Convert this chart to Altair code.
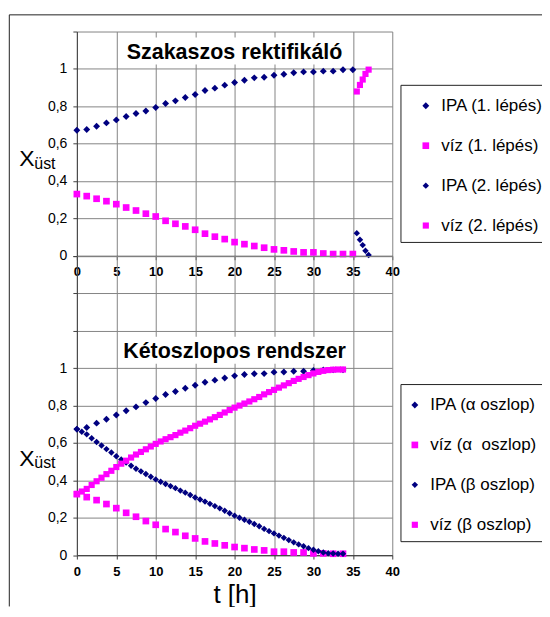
import altair as alt
import pandas as pd

# ---------------- data ----------------
# Panel 1: Szakaszos rektifikáló
t_step1 = [0, 1.25, 2.5, 3.75, 5, 6.25, 7.5, 8.75, 10, 11.25, 12.5, 13.75, 15, 16.25,
           17.5, 18.75, 20, 21.25, 22.5, 23.75, 25, 26.25, 27.5, 28.75, 30, 31.25,
           32.5, 33.75, 35]
ipa_step1 = [0.672, 0.676, 0.693, 0.711, 0.727, 0.745, 0.761, 0.775, 0.793, 0.815,
             0.829, 0.847, 0.863, 0.884, 0.897, 0.913, 0.927, 0.939, 0.952, 0.955,
             0.966, 0.971, 0.979, 0.984, 0.984, 0.988, 0.988, 0.995, 0.995]
viz_step1 = [0.330, 0.319, 0.305, 0.292, 0.276, 0.258, 0.242, 0.225, 0.210, 0.187,
             0.171, 0.157, 0.139, 0.118, 0.102, 0.089, 0.073, 0.062, 0.052, 0.043,
             0.034, 0.029, 0.023, 0.018, 0.018, 0.012, 0.009, 0.009, 0.009]
t_step2 = [35.5, 35.9, 36.25, 36.6, 37.0]
ipa_step2 = [0.121, 0.086, 0.057, 0.027, 0.004]
viz_step2 = [0.879, 0.914, 0.943, 0.973, 0.996]

# Panel 2: Kétoszlopos rendszer
t_alpha = [0, 1.25, 2.5, 3.75, 5, 6.25, 7.5, 8.75, 10, 11.25, 12.5, 13.75, 15, 16.25,
           17.5, 18.75, 20, 21.25, 22.5, 23.75, 25, 26.25, 27.5, 28.75, 30, 31.25,
           32.5, 33.75]
ipa_alpha = [0.674, 0.683, 0.706, 0.727, 0.750, 0.772, 0.793, 0.816, 0.838, 0.859,
             0.875, 0.893, 0.909, 0.925, 0.936, 0.948, 0.959, 0.966, 0.970, 0.971,
             0.979, 0.980, 0.984, 0.984, 0.988, 0.991, 0.991, 0.991]
viz_alpha = [0.326, 0.310, 0.294, 0.273, 0.251, 0.226, 0.205, 0.182, 0.162, 0.139,
             0.123, 0.103, 0.089, 0.073, 0.062, 0.052, 0.043, 0.037, 0.030, 0.025,
             0.018, 0.018, 0.014, 0.014, 0.009, 0.009, 0.007, 0.007]
t_beta = [0, 0.625, 1.25, 1.875, 2.5, 3.125, 3.75, 4.375, 5, 5.625, 6.25, 6.875, 7.5,
          8.125, 8.75, 9.375, 10, 10.625, 11.25, 11.875, 12.5, 13.125, 13.75, 14.375,
          15, 15.625, 16.25, 16.875, 17.5, 18.125, 18.75, 19.375, 20, 20.625, 21.25,
          21.875, 22.5, 23.125, 23.75, 24.375, 25, 25.625, 26.25, 26.875, 27.5, 28.125,
          28.75, 29.375, 30, 30.625, 31.25, 31.875, 32.5, 33.125, 33.75]
ipa_beta = [0.673, 0.660, 0.646, 0.625, 0.605, 0.586, 0.567, 0.549, 0.529, 0.511,
            0.495, 0.478, 0.462, 0.448, 0.434, 0.419, 0.405, 0.392, 0.380, 0.369,
            0.358, 0.345, 0.334, 0.321, 0.308, 0.297, 0.286, 0.274, 0.262, 0.250,
            0.237, 0.224, 0.211, 0.200, 0.189, 0.178, 0.166, 0.154, 0.140, 0.128,
            0.116, 0.104, 0.092, 0.080, 0.068, 0.057, 0.047, 0.037, 0.028, 0.020,
            0.014, 0.010, 0.008, 0.007, 0.007]
viz_beta = [0.327, 0.340, 0.354, 0.375, 0.395, 0.414, 0.433, 0.451, 0.471, 0.489,
            0.505, 0.522, 0.538, 0.552, 0.566, 0.581, 0.595, 0.608, 0.620, 0.631,
            0.642, 0.655, 0.666, 0.679, 0.692, 0.703, 0.714, 0.726, 0.738, 0.750,
            0.763, 0.776, 0.789, 0.800, 0.811, 0.822, 0.834, 0.846, 0.860, 0.872,
            0.884, 0.896, 0.908, 0.920, 0.932, 0.943, 0.953, 0.963, 0.972, 0.980,
            0.986, 0.990, 0.992, 0.993, 0.993]

series1 = ["IPA (1. lépés)", "víz (1. lépés)", "IPA (2. lépés)", "víz (2. lépés)"]
series2 = ["IPA (\u03b1 oszlop)", "víz (\u03b1\u00a0 oszlop)", "IPA (\u03b2 oszlop)", "víz (\u03b2 oszlop)"]
title1 = "Szakaszos rektifikáló"
title2 = "Kétoszlopos rendszer"
x_ticks = [0, 5, 10, 15, 20, 25, 30, 35, 40]

# ---------------- styling ----------------
NAVY = "#000080"
MAG = "#FF00FF"
GRID = "#858585"
DOM = "#404040"
FONT = "Liberation Sans"
colors = [NAVY, MAG, NAVY, MAG]
shapes = ["diamond", "square", "diamond", "square"]
sizes = [48, 38, 14, 9]
PW = 316          # plot width (px)
UNIT = 187.2      # px per 1.0 on y


def make_df(ts, vs, names):
    rows = []
    for t, v, n in zip(ts, vs, names):
        for a, b in zip(t, v):
            rows.append({"t": a, "x": b, "series": n})
    return pd.DataFrame(rows)


df1 = make_df([t_step1, t_step1, t_step2, t_step2],
              [ipa_step1, viz_step1, ipa_step2, viz_step2], series1)
df2 = make_df([t_alpha, t_alpha, t_beta, t_beta],
              [ipa_alpha, viz_alpha, ipa_beta, viz_beta], series2)


def panel(df, series, title, ymax, leg_y, sym_off, xtitle):
    height = ymax * UNIT
    yvals = [round(0.2 * i, 1) for i in range(int(round(ymax / 0.2)) + 1)]
    xs = alt.Scale(domain=[0, 40], nice=False, zero=False)
    ys = alt.Scale(domain=[0, ymax], nice=False)
    legend = alt.Legend(
        orient="none", legendX=324.7, legendY=leg_y, title=None,
        padding=12, rowPadding=22,
        labelFont=FONT, labelFontSize=17, labelColor="black", labelOffset=7,
        symbolOffset=sym_off, symbolStrokeWidth=0, labelLimit=400,
    )
    xaxis = alt.Axis(
        values=x_ticks, grid=True, gridColor=GRID, domainColor=DOM, tickColor=DOM,
        tickSize=4, labelFont=FONT, labelFontSize=13, labelFontWeight="bold",
        labelColor="black", labelPadding=6, labelFlush=False, labelOverlap=False,
        title=xtitle if xtitle else None, titleFont=FONT, titleFontSize=26,
        titleFontWeight="normal", titleColor="black", titlePadding=4,
    )
    yaxis = alt.Axis(
        values=yvals, grid=True, gridColor=GRID, domainColor=DOM, tickColor=DOM,
        tickSize=4, labelFont=FONT, labelFontSize=14, labelColor="black",
        labelPadding=6, title=None, labelFlush=False, labelOverlap=False,
        labelExpr="datum.value > 1.01 ? '' : replace(format(datum.value, '.1~f'), '.', ',')",
    )
    X = lambda f: alt.X(f, scale=xs, axis=xaxis)
    Y = lambda f: alt.Y(f, scale=ys, axis=yaxis)
    # legend frame (decoration): open on the right, running off the page like the original
    one = pd.DataFrame({"a": [0]})
    lb_top, lb_bot = leg_y, leg_y + 157.4
    legfill = alt.Chart(one).mark_rect(fill="white").encode(
        x=alt.value(324.7), x2=alt.value(520), y=alt.value(lb_top), y2=alt.value(lb_bot))
    edge_t = alt.Chart(one).mark_rule(color="#222222", strokeWidth=1).encode(
        x=alt.value(324.7), x2=alt.value(520), y=alt.value(lb_top))
    edge_b = alt.Chart(one).mark_rule(color="#222222", strokeWidth=1).encode(
        x=alt.value(324.7), x2=alt.value(520), y=alt.value(lb_bot))
    edge_l = alt.Chart(one).mark_rule(color="#222222", strokeWidth=1).encode(
        x=alt.value(324.7), y=alt.value(lb_top), y2=alt.value(lb_bot))
    # white box behind the panel title
    bdf = pd.DataFrame({"t": [5.6], "t2": [34.4], "x": [1.024], "x2": [1.168]})
    box = alt.Chart(bdf).mark_rect(fill="white").encode(
        x=X("t:Q"), x2="t2:Q", y=Y("x:Q"), y2="x2:Q")
    pts = alt.Chart(df).mark_point(filled=True, opacity=1).encode(
        x=X("t:Q"), y=Y("x:Q"),
        color=alt.Color("series:N", scale=alt.Scale(domain=series, range=colors), legend=legend),
        shape=alt.Shape("series:N", scale=alt.Scale(domain=series, range=shapes), legend=legend),
        size=alt.Size("series:N", scale=alt.Scale(domain=series, range=sizes), legend=legend),
    )
    tdf = pd.DataFrame({"t": [20], "x": [1.054], "label": [title]})
    ttl = alt.Chart(tdf).mark_text(
        font=FONT, fontSize=21.5, fontWeight="bold", color="black", baseline="alphabetic"
    ).encode(x=X("t:Q"), y=Y("x:Q"), text="label:N")
    ydf = pd.DataFrame({"x": [0.479], "label": ["X"]})
    ylab = alt.Chart(ydf).mark_text(
        font=FONT, fontSize=23, color="black", align="left", baseline="alphabetic"
    ).encode(x=alt.value(-57.8), y=Y("x:Q"), text="label:N")
    sdf = pd.DataFrame({"x": [0.465], "label": ["üst"]})
    ysub = alt.Chart(sdf).mark_text(
        font=FONT, fontSize=16, color="black", align="left", baseline="alphabetic"
    ).encode(x=alt.value(-42.7), y=Y("x:Q"), text="label:N")
    return alt.layer(legfill, edge_t, edge_b, edge_l, box, pts, ttl, ylab, ysub).properties(
        width=PW, height=height)


top = panel(df1, series1, title1, 1.2, 53.9, 4.4, None)
bottom = panel(df2, series2, title2, 1.6, 128.7, -6.6, "t [h]")

# outer frame (decoration); its right and bottom parts run off the page like the original
fdf = pd.DataFrame({"a": [0]})
frame_top = alt.Chart(fdf).mark_rule(color="#222222", strokeWidth=1).encode(
    x=alt.value(-67.7), x2=alt.value(544), y=alt.value(-16.7))
frame_left = alt.Chart(fdf).mark_rule(color="#222222", strokeWidth=1).encode(
    x=alt.value(-67.7), y=alt.value(-16.7), y2=alt.value(576))
top = alt.layer(top, frame_top, frame_left)

chart = alt.vconcat(top, bottom, spacing=0, bounds="flush").resolve_scale(
    color="independent", shape="independent", size="independent",
    x="independent", y="independent"
).properties(
    padding={"left": 0, "top": 5, "right": -79, "bottom": -2}, background="white"
).configure_view(stroke=None)

chart.save("out.html", embed_options={"renderer": "svg", "actions": False})
